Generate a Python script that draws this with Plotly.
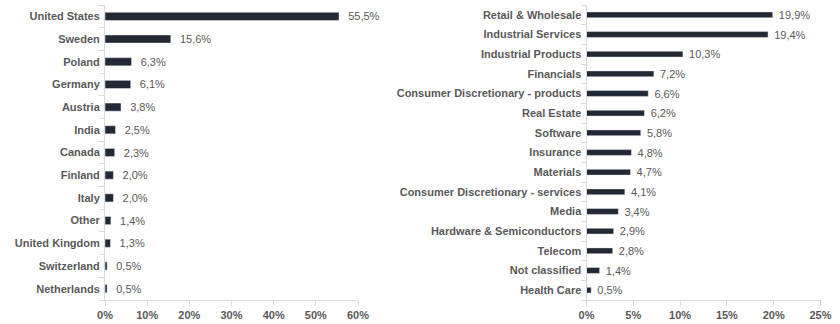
import plotly.graph_objects as go

# Country breakdown (%)
countries = ["United States", "Sweden", "Poland", "Germany", "Austria", "India", "Canada",
             "Finland", "Italy", "Other", "United Kingdom", "Switzerland", "Netherlands"]
country_vals = [55.5, 15.6, 6.3, 6.1, 3.8, 2.5, 2.3, 2.0, 2.0, 1.4, 1.3, 0.5, 0.5]

# Sector breakdown (%)
sectors = ["Retail & Wholesale", "Industrial Services", "Industrial Products", "Financials",
           "Consumer Discretionary - products", "Real Estate", "Software", "Insurance",
           "Materials", "Consumer Discretionary - services", "Media",
           "Hardware & Semiconductors", "Telecom", "Not classified", "Health Care"]
sector_vals = [19.9, 19.4, 10.3, 7.2, 6.6, 6.2, 5.8, 4.8, 4.7, 4.1, 3.4, 2.9, 2.8, 1.4, 0.5]

country_ticks = [0, 10, 20, 30, 40, 50, 60]
sector_ticks = [0, 5, 10, 15, 20, 25]

BAR = "#232934"
GREY = "#595959"
AXIS = "#d9d9d9"
FONT = "Liberation Sans, Arial, sans-serif"
GAP = "\u00a0\u00a0"


def bold(labels):
    return [f"<b>{s}</b>" for s in labels]


fig = go.Figure()
fig.add_trace(go.Bar(
    x=country_vals, y=countries, orientation="h", marker_color=BAR,
    texttemplate=GAP + "%{x:.1f}%", textposition="outside", cliponaxis=False,
    constraintext="none",
    textfont=dict(color=GREY, size=11, family=FONT),
    xaxis="x", yaxis="y", width=0.36,
))
fig.add_trace(go.Bar(
    x=sector_vals, y=sectors, orientation="h", marker_color=BAR,
    texttemplate=GAP + "%{x:.1f}%", textposition="outside", cliponaxis=False,
    constraintext="none",
    textfont=dict(color=GREY, size=11, family=FONT),
    xaxis="x2", yaxis="y2", width=0.3,
))

ydom = [1 - 300 / 324, 1 - 5 / 324]
common_x = dict(showgrid=False, zeroline=False, showline=True, linecolor=AXIS, linewidth=1,
                ticks="outside", ticklen=5, tickcolor=AXIS, automargin=False,
                tickfont=dict(color=GREY, size=11, family=FONT), fixedrange=True)
common_y = dict(showgrid=False, zeroline=False, showline=True, linecolor=AXIS, linewidth=1,
                ticks="outside", ticklen=5, tickcolor=AXIS, tickson="boundaries",
                autorange="reversed", automargin=False, ticklabelstandoff=2,
                tickfont=dict(color=GREY, size=11, family=FONT))

fig.update_layout(
    width=840, height=324, margin=dict(l=0, r=0, t=0, b=0, autoexpand=False),
    paper_bgcolor="white", plot_bgcolor="white", showlegend=False,
    separators=", ", font=dict(family=FONT, color=GREY, size=11),
    xaxis=dict(domain=[105 / 840, 358 / 840], range=[0, 60], tickmode="array",
               tickvals=country_ticks, ticktext=bold([f"{t}%" for t in country_ticks]),
               anchor="y", **common_x),
    yaxis=dict(domain=ydom, anchor="x", tickmode="array", tickvals=countries,
               ticktext=bold(countries), **common_y),
    xaxis2=dict(domain=[586.5 / 840, 820.5 / 840], range=[0, 25], tickmode="array",
                tickvals=sector_ticks, ticktext=bold([f"{t}%" for t in sector_ticks]),
                anchor="y2", **common_x),
    yaxis2=dict(domain=ydom, anchor="x2", tickmode="array", tickvals=sectors,
                ticktext=bold(sectors), **common_y),
)

fig.write_html("out.html")
